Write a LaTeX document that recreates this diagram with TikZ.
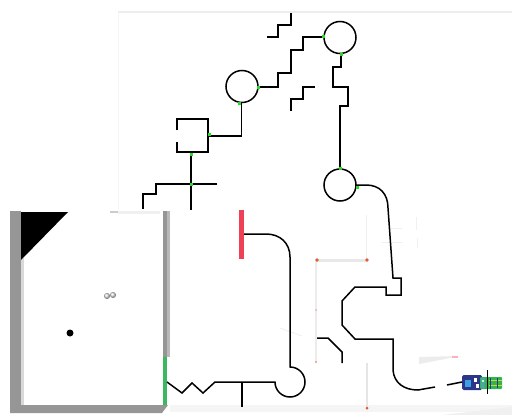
\documentclass[tikz,border=0pt]{standalone}
\begin{document}
\begin{tikzpicture}[x=1pt,y=-1pt,
  track/.style={line width=1.5pt, black, line join=miter},
  jointmark/.style={rectangle, fill={rgb,255:red,40;green,220;blue,40}, inner sep=0pt, minimum size=3pt},
  floorline/.style={gray!11, line width=1pt}]
\definecolor{framegray}{RGB}{150,150,150}
\definecolor{doorgreen}{RGB}{60,184,96}
\definecolor{barred}{RGB}{238,64,86}
\definecolor{navy}{RGB}{45,55,135}
\definecolor{skyblue}{RGB}{60,160,230}
\definecolor{botgreen}{RGB}{50,180,80}
\definecolor{stripe}{RGB}{200,220,40}
\definecolor{tipcol}{RGB}{225,90,50}

\useasboundingbox (0,0) rectangle (512,415);
\fill[white] (0,0) rectangle (512,415);

% arena edges and floor shading
\draw[gray!14, line width=2pt] (118,12) -- (512,12);
\draw[gray!8, line width=1pt] (118,12) -- (118,210);
\fill[gray!8] (170,405) rectangle (512,412);
\fill[gray!12] (442,415) -- (512,407) -- (512,415) -- cycle;

% thin walls with their corner posts
\draw[gray!12, line width=1pt] (366,215) -- (366,260);
\draw[gray!18, line width=3pt] (317,260) -- (367,260);
\draw[gray!15, line width=1.5pt] (316,260) -- (316,363);
\draw[gray!20, line width=2.5pt] (367,363) -- (367,410);
\fill[tipcol] (317,260) circle[radius=1.8pt];
\fill[tipcol] (367,260) circle[radius=1.8pt];
\fill[tipcol!50] (316,310) circle[radius=1pt];
\fill[tipcol!60] (316,362) circle[radius=1.2pt];
\fill[tipcol] (367,408) circle[radius=1.5pt];
\fill[gray!15] (419,357) -- (460,356) -- (419,364) -- cycle;
\fill[barred!40] (452,356) rectangle (458,358);

% faint marks
\draw[floorline] (390,228) -- (402,228);
\draw[floorline] (381,242) -- (403,242);
\draw[floorline] (416,217) -- (416,230);
\draw[floorline] (417,238) -- (417,248);
\draw[floorline] (280,328) -- (302,336);

% side room
\fill[gray!40] (110,211) rectangle (118,213);
\fill[gray!12] (118,211) rectangle (160,214);
\fill[framegray] (10,211) rectangle (21,413);
\fill[framegray] (10,405) -- (168,405) -- (162,413) -- (10,413) -- cycle;
\fill[framegray] (163,211) rectangle (167,357);
\fill[gray!55] (167,211) rectangle (170,357);
\fill[doorgreen] (163,357) rectangle (167,405);
\fill[gray!30] (21,258) rectangle (24,405);
\fill[black] (21,212) -- (68,212) -- (21,260) -- cycle;
\fill[black] (70,333) circle[radius=3.5pt];
\shade[ball color=gray!25] (107,296) circle[radius=3pt];
\shade[ball color=gray!25] (113,295) circle[radius=3pt];

% red marker
\fill[barred] (239,210) rectangle (244,259);

% path segments
\draw[track] (291,13) -- (291,25) -- (278,25) -- (278,37) -- (267,37);
\draw[track] (291,111) -- (291,99) -- (303,99) -- (303,87) -- (315,87);
\draw[track] (340,37.5) circle[radius=16pt];
\draw[track] (242,86.5) circle[radius=16pt];
\draw[track] (340,185) circle[radius=16pt];
\draw[track] (324,37) -- (303,37) -- (303,50) -- (291,50) -- (291,73) -- (278,73) -- (278,87) -- (258,87);
\draw[track] (341,53.5) -- (341,67) -- (333,67) -- (333,87) -- (348,87) -- (348,106) -- (340,106) -- (340,169);
\draw[track] (241.5,102.5) -- (241.5,136) -- (208,136);
\draw[track] (177,130) -- (177,119) -- (208,119) -- (208,152) -- (177,152) -- (177,142);
\draw[track] (191,152) -- (191,210);
\draw[track] (217,184) -- (156,184) -- (156,194) -- (143,194) -- (143,209);
\draw[track] (356,185) -- (366,185) .. controls (380,185) and (388,194) .. (388,208)
  -- (393,278) -- (401,278) -- (401,295) -- (386,295) -- (386,287) -- (355,287)
  -- (342,301) -- (342,325) -- (355,339) -- (393,339) -- (393,370)
  .. controls (394,383) and (404,390) .. (418,390) -- (435,387);
\draw[track] (447,385) -- (462,382);
\draw[track] (244,234) -- (266,234) .. controls (280,234) and (290,243) .. (290,257)
  -- (290,367) arc[start angle=90, end angle=-180, radius=15pt]
  -- (215,382) -- (203,393) -- (192,383) -- (182,393) -- (167,382);
\draw[track] (242,382) -- (242,407);
\draw[track] (317,338) -- (328,338) -- (342,352) -- (342,363);

% junction markers
\node[jointmark] (j1) at (323,36) {};
\node[jointmark] (j2) at (341,54) {};
\node[jointmark] (j3) at (258,87) {};
\node[jointmark] (j4) at (239,103) {};
\node[jointmark] (j5) at (209,134) {};
\node[jointmark] (j6) at (191,154) {};
\node[jointmark] (j7) at (191,184) {};
\node[jointmark] (j8) at (340,168) {};
\node[jointmark] (j9) at (357,187) {};

% robot
\fill[navy, rounded corners=1.5pt] (462,375) rectangle (482,390);
\fill[skyblue] (465,380) rectangle (471,387);
\fill[white] (474,378) rectangle (477,382);
\fill[white] (476,384) rectangle (479,388);
\fill[botgreen, rounded corners=1pt] (480,377) rectangle (502,389);
\fill[stripe] (489,380) rectangle (502,381.3);
\fill[stripe] (489,385) rectangle (502,386.3);
\fill[teal!70] (481,378) rectangle (485,388);
\fill[white!80!green] (482,380) rectangle (484,382);
\draw[black, line width=1pt] (487,370) -- (487,394);
\draw[navy, line width=0.8pt] (490,378) -- (490,389);
\draw[navy, line width=0.6pt] (497,378) -- (497,388);
\end{tikzpicture}
\end{document}
